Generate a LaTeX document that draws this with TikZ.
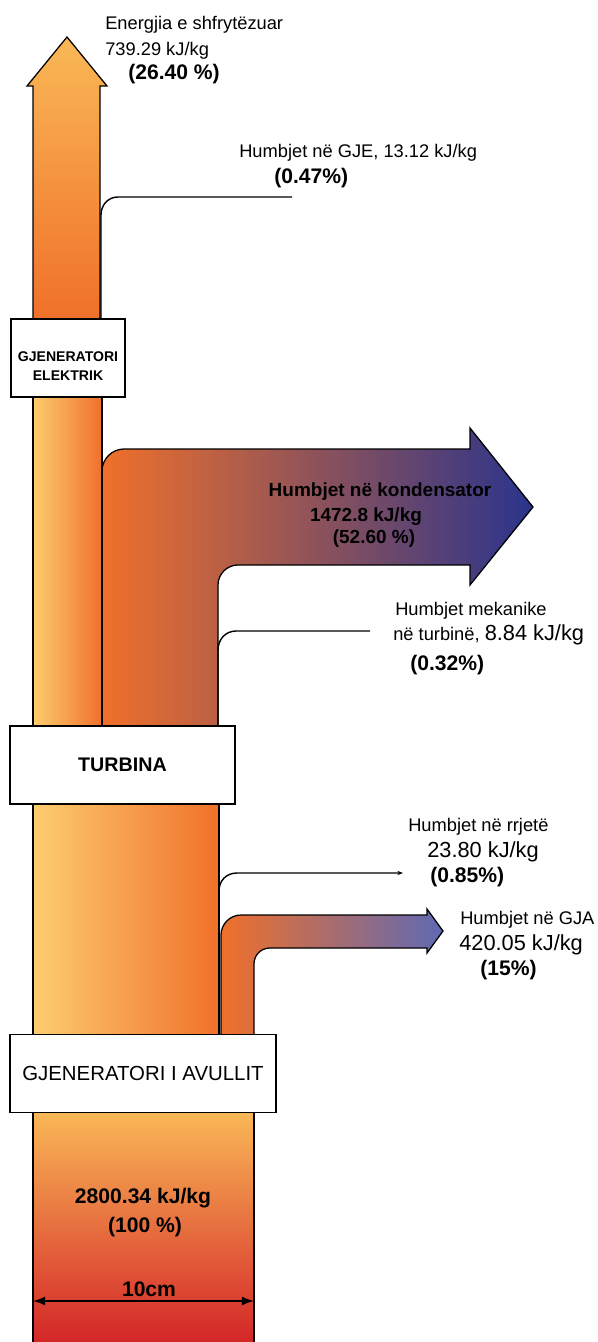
\documentclass[tikz,border=0pt]{standalone}
\usepackage{fontspec}
\setmainfont{Liberation Sans}
\usepackage{xcolor}
\usetikzlibrary{arrows.meta}

\definecolor{flowyellow}{RGB}{253,205,110}
\definecolor{flowlight}{RGB}{249,184,86}
\definecolor{floworange}{RGB}{240,112,42}
\definecolor{flowbrown}{RGB}{140,68,100}
\definecolor{flowblue}{RGB}{42,52,140}
\definecolor{flowviolet}{RGB}{95,105,180}
\definecolor{flowred}{RGB}{212,38,40}

\begin{document}
\begin{tikzpicture}[x=0.025cm,y=-0.025cm]

\tikzstyle{flowedge} = [draw=black, line width=0.9pt]
\tikzstyle{lossline} = [draw=black, line width=1pt]
\tikzstyle{blockbox} = [draw=black, line width=1.3pt, fill=white, rectangle, inner sep=0pt, minimum height=1.95cm]
\tikzstyle{lbltxt} = [font=\fontsize{13}{15}\selectfont, inner sep=0pt, anchor=base west]
\tikzstyle{bigtxt} = [font=\fontsize{15.5}{18}\selectfont, inner sep=0pt, anchor=base west]
\tikzstyle{pcttxt} = [font=\bfseries\fontsize{15}{18}\selectfont, inner sep=0pt, anchor=base west]
\tikzstyle{midtxt} = [font=\bfseries\fontsize{13.5}{16}\selectfont, inner sep=0pt, anchor=base]

\useasboundingbox (0,0) rectangle (598,1342);

% flows
\path[fill, top color=flowlight, middle color=floworange!85!flowyellow, bottom color=flowred] (33,1112) rectangle (254,1342);
\draw[flowedge] (33,1112) -- (33,1342) (254,1112) -- (254,1342);

\draw[flowedge, left color=flowyellow, right color=floworange] (33,804) rectangle (219,1035);

\draw[flowedge, left color=floworange, middle color=flowbrown!80!floworange, right color=flowviolet]
  (221,1035) -- (221,935) .. controls (221,924) and (230,915) .. (241,915) -- (427,915) -- (427,909)
  -- (443,931) -- (427,953) -- (427,948) -- (270,948) .. controls (261,948) and (254,955) .. (254,964)
  -- (254,1035) -- cycle;

\draw[lossline, -{Stealth[length=4pt,width=3pt]}] (219,1035) -- (219,891) .. controls (219,881) and (226,873) .. (237,873) -- (403,873);

\draw[flowedge, left color=floworange, middle color=flowbrown, right color=flowblue]
  (102,726) -- (102,471) .. controls (102,459) and (112,449) .. (124,449) -- (470,449) -- (470,428)
  -- (533,507) -- (470,585) -- (470,565) -- (238,565) .. controls (227,565) and (218,574) .. (218,585)
  -- (218,726) -- cycle;

\draw[lossline] (218,726) -- (218,650) .. controls (218,640) and (225,631) .. (236,631) -- (370,631);

\draw[flowedge, left color=flowyellow, right color=floworange] (33,397) rectangle (102,726);

\draw[flowedge, top color=flowlight, bottom color=floworange]
  (33,319) -- (33,86) -- (27,86) -- (67,37) -- (107,86) -- (100,86) -- (100,319) -- cycle;

\draw[lossline] (101,319) -- (101,215) .. controls (101,205) and (108,197) .. (118,197) -- (292,197);

% blocks
\node (gje) [blockbox, minimum width=2.85cm] at (68,358) {};
\node (gjetext) [font=\bfseries\fontsize{10}{14}\selectfont, align=center, inner sep=0pt] at (68,366) {GJENERATORI\\ELEKTRIK};
\node (turbina) [blockbox, minimum width=5.625cm, font=\bfseries\fontsize{14}{17}\selectfont] at (122.5,765) {TURBINA};
\node (gja) [blockbox, minimum width=6.65cm, font=\fontsize{14.5}{17}\selectfont] at (143,1073.5) {GJENERATORI I AVULLIT};

% labels
\node (eltxt) [lbltxt] at (105,29) {Energjia e shfrytëzuar};
\node (elval) [lbltxt] at (105,55) {739.29 kJ/kg};
\node (elpct) [pcttxt] at (128,79) {(26.40 \%)};

\node (gjetxt) [lbltxt] at (239,157) {Humbjet në GJE, 13.12 kJ/kg};
\node (gjepct) [pcttxt] at (274,183) {(0.47\%)};

\node (kondtxt) [midtxt] at (380,496) {Humbjet në kondensator};
\node (kondval) [midtxt] at (366,521) {1472.8 kJ/kg};
\node (kondpct) [midtxt] at (374,543) {(52.60 \%)};

\node (mektxt) [lbltxt] at (395,615) {Humbjet mekanike};
\node (mekval) [lbltxt] at (393,640) {në turbinë, {\fontsize{15.5}{18}\selectfont 8.84 kJ/kg}};
\node (mekpct) [pcttxt] at (410,670) {(0.32\%)};

\node (rrjtxt) [lbltxt] at (408,831) {Humbjet në rrjetë};
\node (rrjval) [bigtxt] at (427,857) {23.80 kJ/kg};
\node (rrjpct) [pcttxt] at (430,882) {(0.85\%)};

\node (gjatxt) [lbltxt] at (460,924) {Humbjet në GJA};
\node (gjaval) [bigtxt] at (459,950) {420.05 kJ/kg};
\node (gjapct) [pcttxt] at (480,975) {(15\%)};

\node (intxt) [midtxt, font=\bfseries\fontsize{15}{18}\selectfont] at (143,1203) {2800.34 kJ/kg};
\node (inpct) [midtxt, font=\bfseries\fontsize{15}{18}\selectfont] at (145,1232) {(100 \%)};

% width
\coordinate (wl) at (33,1301);
\coordinate (wr) at (254,1301);
\draw[line width=1pt, {Latex[length=0.3cm,width=0.22cm]}-{Latex[length=0.3cm,width=0.22cm]}] (wl) -- (wr);
\node (wtxt) [midtxt, font=\bfseries\fontsize{15}{18}\selectfont] at (149,1296) {10cm};

\end{tikzpicture}
\end{document}
